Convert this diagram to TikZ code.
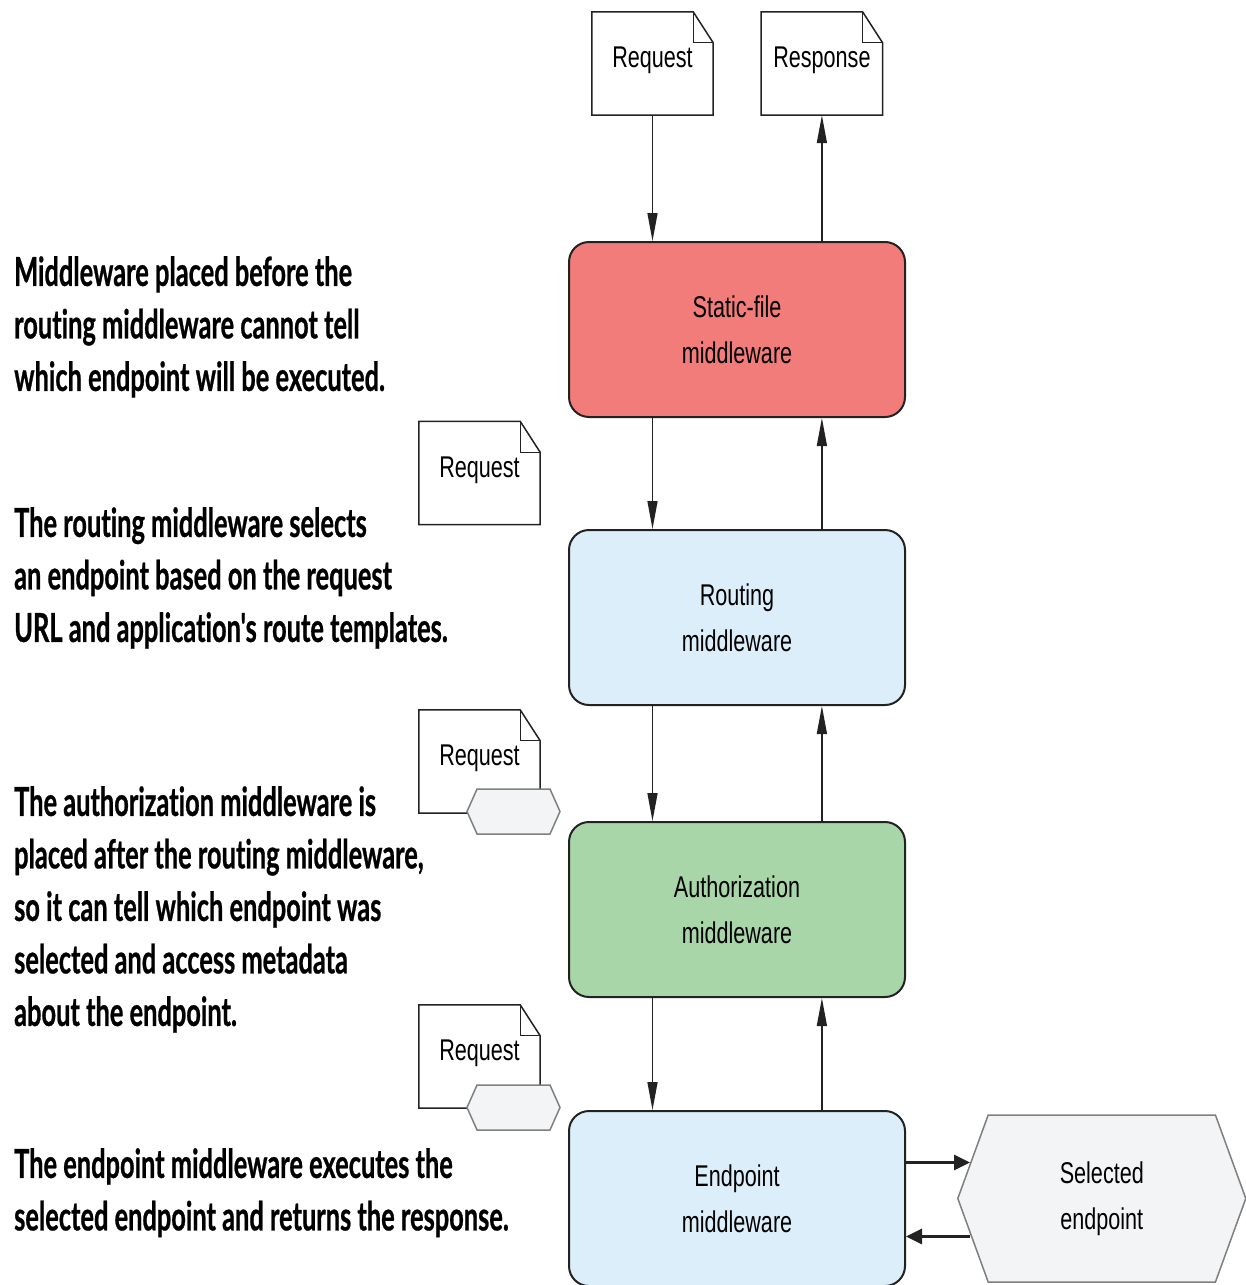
\documentclass[tikz,border=0pt]{standalone}
\usepackage{fontspec}
\setmainfont{Liberation Sans}
\newfontfamily\boxfont{Liberation Sans}[FakeStretch=0.72]
\newfontfamily\notefont{Lato}[FakeStretch=0.635, Ligatures=NoCommon, BoldFeatures={FakeBold=0.6}]
\usepackage{xcolor}
\usetikzlibrary{arrows.meta, positioning, shapes.symbols}
\definecolor{staticred}{HTML}{F27C79}
\definecolor{paleblue}{HTML}{DDEEFB}
\definecolor{palegreen}{HTML}{A8D6A8}
\definecolor{tagfill}{HTML}{F3F4F6}
\definecolor{tagline}{HTML}{7F7F7F}
\definecolor{boxline}{HTML}{222222}
% outline of a dog-eared page round a node
\newcommand{\docoutline}[1]{%
    \draw[line width=1.5pt, draw=boxline] (#1.north west) -- ([xshift=-20pt]#1.north east) -- ([yshift=-31pt]#1.north east) -- (#1.south east) -- (#1.south west) -- cycle;
    \draw[line width=1pt, draw=boxline] ([xshift=-20pt]#1.north east) |- ([yshift=-31pt]#1.north east);}

\begin{document}
\begin{tikzpicture}[x=1pt, y=-1pt, >={Triangle[length=28pt, width=10pt]},
    mw/.style={draw=boxline, line width=2pt, rounded corners=20pt, minimum width=336pt, minimum height=175pt, align=center, font=\boxfont\fontsize{30}{46}\selectfont},
    doc/.style={minimum width=121pt, minimum height=103pt, inner sep=0pt, font=\boxfont\fontsize{30}{36}\selectfont},
    tag/.style={shape=signal, signal to=west and east, draw=tagline, line width=1.5pt, fill=tagfill, inner sep=0pt, align=center},
    note/.style={anchor=north west, inner sep=0pt, align=left, font=\notefont\bfseries\fontsize{40}{52.5}\selectfont},
    flow/.style={->, line width=1.5pt, draw=boxline},
    bigflow/.style={-{Triangle[length=16pt, width=15pt]}, line width=3pt, draw=boxline}]
    \useasboundingbox (0,0) rectangle (1246,1285);

    % middleware pipeline
    \node[mw, fill=staticred] (static) at (737,329.5) {Static-file\\middleware};
    \node[mw, fill=paleblue, below=111pt of static] (routing) {Routing\\middleware};
    \node[mw, fill=palegreen, below=115pt of routing] (authz) {Authorization\\middleware};
    \node[mw, fill=paleblue, below=112pt of authz] (endpt) {Endpoint\\middleware};

    \node[tag, minimum width=288pt, minimum height=167pt, signal pointer angle=140, right=51pt of endpt, font=\boxfont\fontsize{30}{46}\selectfont] (selected) {Selected\\endpoint};

    % request / response pages
    \node[doc, text depth=12pt] (reqin) at (652.5,63.5) {Request};
    \node[doc, text depth=12pt, right=48pt of reqin] (respout) {Response};
    \docoutline{reqin}
    \docoutline{respout}

    \node[doc, text depth=12pt] (req1) at (479.5,473) {Request};
    \node[doc, text depth=12pt] (req2) at (479.5,761.5) {Request};
    \node[doc, text depth=12pt] (req3) at (479.5,1056.5) {Request};
    \docoutline{req1}
    \docoutline{req2}
    \docoutline{req3}
    \node[tag, minimum width=93pt, minimum height=45pt, signal pointer angle=132] (tag1) at (513.5,811.5) {};
    \node[tag, minimum width=93pt, minimum height=45pt, signal pointer angle=132] (tag2) at (513.5,1107.5) {};

    % connectors
    \draw[flow] (reqin.south) -- (static.north -| reqin);
    \draw[flow] (static.north -| respout) -- (respout.south);
    \draw[flow] (static.south -| reqin) -- (routing.north -| reqin);
    \draw[flow] (routing.north -| respout) -- (static.south -| respout);
    \draw[flow] (routing.south -| reqin) -- (authz.north -| reqin);
    \draw[flow] (authz.north -| respout) -- (routing.south -| respout);
    \draw[flow] (authz.south -| reqin) -- (endpt.north -| reqin);
    \draw[flow] (endpt.north -| respout) -- (authz.south -| respout);
    \draw[bigflow] ([yshift=36pt]endpt.east) -- ([shift={(13pt,36pt)}]selected.west);
    \draw[bigflow] ([shift={(13pt,-38pt)}]selected.west) -- ([yshift=-38pt]endpt.east);

    % notes on the left
    \node[note] (note1) at (14,256) {Middleware placed before the\\routing middleware cannot tell\\which endpoint will be executed.};
    \node[note] (note2) at (14,507) {The routing middleware selects\\an endpoint based on the request\\URL and application's route templates.};
    \node[note] (note3) at (14,786) {The authorization middleware is\\placed after the routing middleware,\\so it can tell which endpoint was\\selected and access metadata\\about the endpoint.};
    \node[note] (note4) at (14,1148) {The endpoint middleware executes the\\selected endpoint and returns the response.};
\end{tikzpicture}
\end{document}
